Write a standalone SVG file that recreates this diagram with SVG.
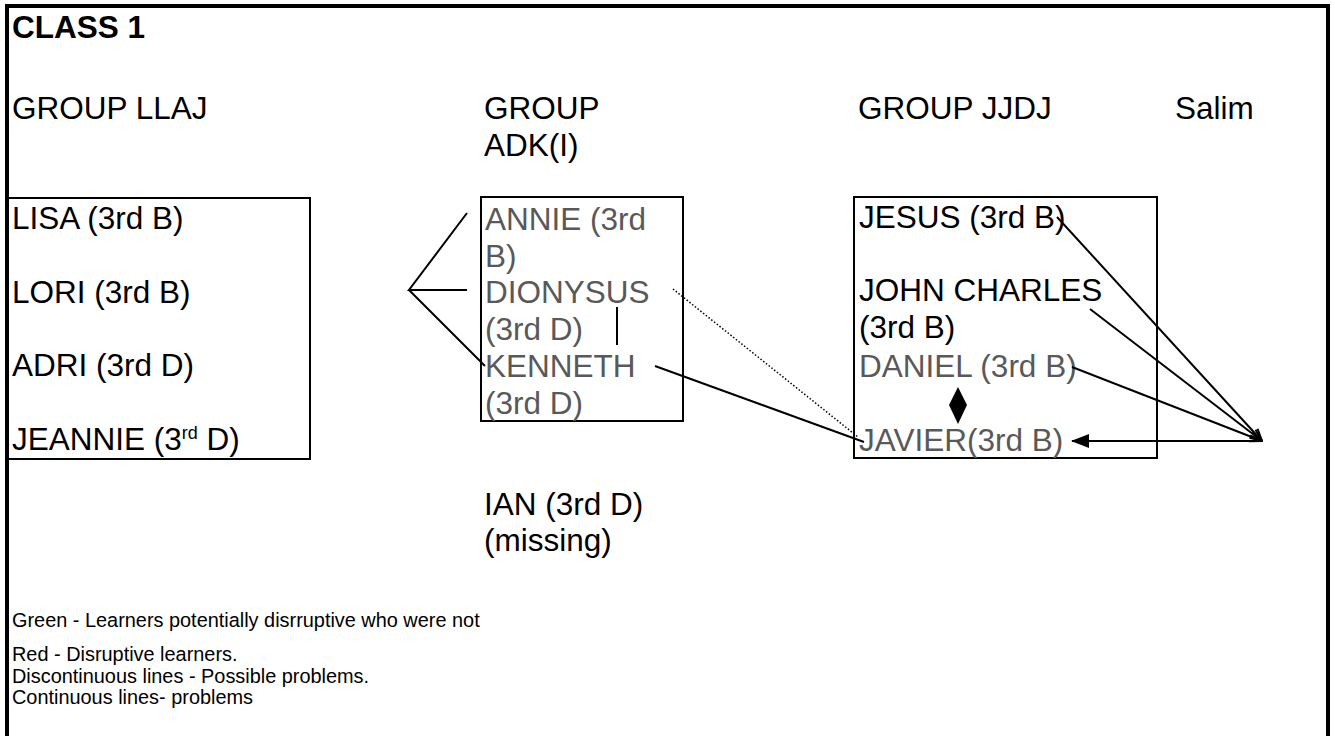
<svg xmlns="http://www.w3.org/2000/svg" width="1335" height="736" viewBox="0 0 1335 736">
<style>
text{font-family:"Liberation Sans",Arial,sans-serif;font-size:31.5px;fill:#000}
.g{fill:#595959}
.b{font-weight:bold}
.leg{font-size:19.9px}
.box{fill:none;stroke:#000;stroke-width:2}
.ln{fill:none;stroke:#000;stroke-width:2}
</style>
<defs>
<marker id="open" markerWidth="14" markerHeight="12" refX="13" refY="6" orient="auto" markerUnits="userSpaceOnUse">
<path d="M1,1 L13,6 L1,11" fill="none" stroke="#000" stroke-width="2"/>
</marker>
<marker id="fill" markerWidth="18" markerHeight="14" refX="17" refY="7" orient="auto" markerUnits="userSpaceOnUse">
<path d="M0,0 L18,7 L0,14 Z" fill="#000"/>
</marker>
</defs>
<rect width="1335" height="736" fill="#fff"/>
<path d="M7,745 V6 H1328 V745" fill="none" stroke="#000" stroke-width="4"/>
<g id="title"><text class="b" x="12" y="38">CLASS 1</text></g>
<g id="headers">
<text x="12" y="119">GROUP LLAJ</text>
<text x="484" y="119">GROUP</text>
<text x="484" y="156">ADK(I)</text>
<text x="858" y="119">GROUP JJDJ</text>
<text x="1175" y="119">Salim</text>
</g>
<g id="group-llaj">
<rect class="box" x="8" y="198" width="302" height="261"/>
<text x="12" y="229">LISA (3rd B)</text>
<text x="12" y="303">LORI (3rd B)</text>
<text x="12" y="376">ADRI (3rd D)</text>
<text x="12" y="450">JEANNIE (3<tspan font-size="18" dy="-11">rd</tspan><tspan dy="11"> D)</tspan></text>
</g>
<g id="group-adk">
<rect class="box" x="481" y="197" width="202" height="224"/>
<text class="g" x="485" y="230">ANNIE (3rd</text>
<text class="g" x="485" y="267">B)</text>
<text class="g" x="485" y="303">DIONYSUS</text>
<text class="g" x="485" y="340">(3rd D)</text>
<text class="g" x="485" y="377">KENNETH</text>
<text class="g" x="485" y="414">(3rd D)</text>
</g>
<g id="ian"><text x="484" y="515">IAN (3rd D)</text><text x="484" y="551">(missing)</text></g>
<g id="group-jjdj">
<rect class="box" x="854" y="197" width="303" height="261"/>
<text x="859" y="228">JESUS (3rd B)</text>
<text x="859" y="301">JOHN CHARLES</text>
<text x="859" y="338">(3rd B)</text>
<text class="g" x="859" y="377">DANIEL (3rd B)</text>
<text class="g" x="859" y="451">JAVIER(3rd B)</text>
</g>
<g id="connectors">
<path class="ln" d="M467,213 L409,290 L467,290 M409,290 L485,366"/>
<line class="ln" x1="617" y1="307" x2="617" y2="345"/>
<line class="ln" x1="655" y1="366" x2="864" y2="442"/>
<line x1="673" y1="289" x2="858" y2="437" stroke="#000" stroke-width="1.5" stroke-dasharray="1.5,2"/>
<line class="ln" x1="1057" y1="217" x2="1262" y2="441" marker-end="url(#open)"/>
<line class="ln" x1="1090" y1="309" x2="1262" y2="441" marker-end="url(#open)"/>
<line class="ln" x1="1072" y1="367" x2="1262" y2="441" marker-end="url(#open)"/>
<line class="ln" x1="1262" y1="441" x2="1072" y2="441" marker-end="url(#fill)"/>
<path d="M958,387 L967,405 L958,424 L949,405 Z" fill="#000"/>
</g>
<g id="legend">
<text class="leg" x="12" y="627">Green - Learners potentially disrruptive who were not</text>
<text class="leg" x="12" y="661">Red - Disruptive learners.</text>
<text class="leg" x="12" y="683">Discontinuous lines - Possible problems.</text>
<text class="leg" x="12" y="704">Continuous lines- problems</text>
</g>
</svg>
